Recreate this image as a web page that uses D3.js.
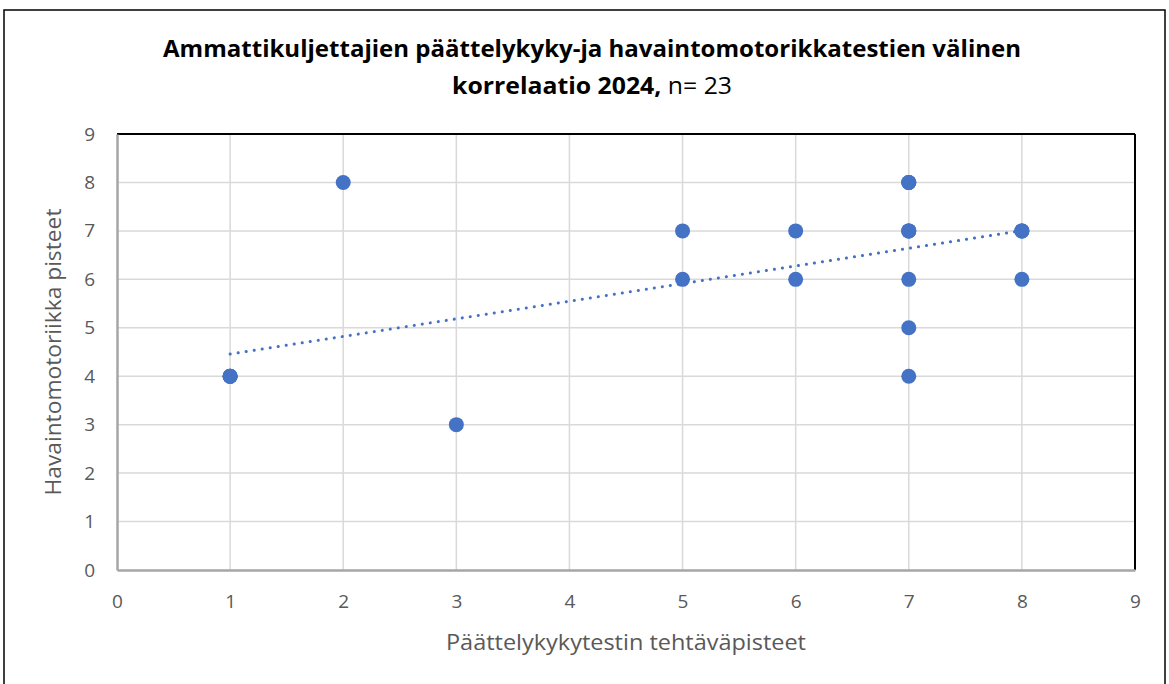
<!DOCTYPE html>
<html>
<head>
<meta charset="utf-8">
<script src="https://cdn.jsdelivr.net/npm/d3@7"></script>
<style>
  body { margin: 0; background: #fff; }
  svg { display: block; font-family: "Open Sans", Lato, sans-serif; }
</style>
</head>
<body>
<div id="plot"></div>
<script>
// scores per driver (overlapping points are repeated)
const xScores = [1, 1, 1, 1, 2, 3, 5, 5, 6, 6, 7, 7, 7, 7, 7, 7, 7, 7, 7, 8, 8, 8, 8];
const yScores = [4, 4, 4, 4, 8, 3, 7, 6, 7, 6, 8, 8, 8, 7, 7, 7, 6, 5, 4, 7, 7, 7, 6];
const xTicks = [0, 1, 2, 3, 4, 5, 6, 7, 8, 9];
const yTicks = [0, 1, 2, 3, 4, 5, 6, 7, 8, 9];
const titleLine1 = "Ammattikuljettajien päättelykyky-ja havaintomotorikkatestien välinen";
const titleBold2 = "korrelaatio 2024,";
const titleRest2 = " n= 23";
const xTitle = "Päättelykykytestin tehtäväpisteet";
const yTitle = "Havaintomotoriikka pisteet";

const width = 1169, height = 684;
const margin = { left: 117, right: 34, top: 134, bottom: 114 };
const color = "#4472c4";

const svg = d3.select("#plot").append("svg")
  .attr("width", width)
  .attr("height", height);

// outer chart frame
svg.append("rect")
  .attr("x", 4).attr("y", 10)
  .attr("width", 1161).attr("height", 700)
  .attr("fill", "none")
  .attr("stroke", "#000")
  .attr("stroke-width", 1.5);

const x = d3.scaleLinear().domain([0, 9]).range([margin.left, width - margin.right]);
const y = d3.scaleLinear().domain([0, 9]).range([height - margin.bottom, margin.top]);

// gridlines
svg.append("g")
  .selectAll("line")
  .data(xTicks.slice(1, -1))
  .enter().append("line")
  .attr("x1", d => x(d)).attr("x2", d => x(d))
  .attr("y1", y(0)).attr("y2", y(9))
  .attr("stroke", "#d9d9d9").attr("stroke-width", 1.5);

svg.append("g")
  .selectAll("line")
  .data(yTicks.slice(1, -1))
  .enter().append("line")
  .attr("x1", x(0)).attr("x2", x(9))
  .attr("y1", d => y(d)).attr("y2", d => y(d))
  .attr("stroke", "#d9d9d9").attr("stroke-width", 1.5);

// plot area border: black top/right, grey axes
svg.append("line")
  .attr("x1", x(0)).attr("x2", x(9)).attr("y1", y(9)).attr("y2", y(9))
  .attr("stroke", "#000").attr("stroke-width", 2);
svg.append("line")
  .attr("x1", x(9)).attr("x2", x(9)).attr("y1", y(9)).attr("y2", y(0))
  .attr("stroke", "#000").attr("stroke-width", 2);

const xAxis = svg.append("g")
  .attr("transform", `translate(0,${y(0)})`)
  .call(d3.axisBottom(x).tickValues(xTicks).tickSize(0).tickPadding(25));
const yAxis = svg.append("g")
  .attr("transform", `translate(${x(0)},0)`)
  .call(d3.axisLeft(y).tickValues(yTicks).tickSize(0).tickPadding(22));

[xAxis, yAxis].forEach(a => {
  a.select(".domain").attr("stroke", "#a6a6a6").attr("stroke-width", 2.5);
  a.selectAll("text")
    .attr("fill", "#595959")
    .style("font-size", "19px")
    .style("font-family", "'Open Sans', sans-serif");
});

// trendline (least squares)
const n = xScores.length;
const mx = d3.mean(xScores), my = d3.mean(yScores);
let sxy = 0, sxx = 0;
for (let i = 0; i < n; i++) {
  sxy += (xScores[i] - mx) * (yScores[i] - my);
  sxx += (xScores[i] - mx) ** 2;
}
const slope = sxy / sxx, intercept = my - slope * mx;
const xExt = d3.extent(xScores);

svg.append("line")
  .attr("x1", x(xExt[0])).attr("y1", y(intercept + slope * xExt[0]))
  .attr("x2", x(xExt[1])).attr("y2", y(intercept + slope * xExt[1]))
  .attr("stroke", color)
  .attr("stroke-width", 3)
  .attr("stroke-linecap", "round")
  .attr("stroke-dasharray", "0.1 8");

// points
svg.append("g")
  .selectAll("circle")
  .data(xScores.map((d, i) => [d, yScores[i]]))
  .enter().append("circle")
  .attr("cx", d => x(d[0]))
  .attr("cy", d => y(d[1]))
  .attr("r", 7.5)
  .attr("fill", color);

// titles
svg.append("text")
  .attr("x", 592).attr("y", 57)
  .attr("text-anchor", "middle")
  .attr("font-weight", "bold")
  .attr("textLength", 858)
  .attr("lengthAdjust", "spacingAndGlyphs")
  .style("font-size", "24px")
  .attr("fill", "#000")
  .text(titleLine1);

const t2 = svg.append("text")
  .attr("x", 592).attr("y", 94)
  .attr("text-anchor", "middle")
  .attr("textLength", 280)
  .attr("lengthAdjust", "spacingAndGlyphs")
  .style("font-size", "24px")
  .attr("fill", "#000");
t2.append("tspan").attr("font-weight", "bold").text(titleBold2);
t2.append("tspan").text(titleRest2);

svg.append("text")
  .attr("x", (x(0) + x(9)) / 2).attr("y", 650)
  .attr("text-anchor", "middle")
  .attr("fill", "#595959")
  .attr("textLength", 360)
  .attr("lengthAdjust", "spacingAndGlyphs")
  .style("font-size", "22px")
  .text(xTitle);

svg.append("text")
  .attr("transform", `translate(61,${(y(0) + y(9)) / 2}) rotate(-90)`)
  .attr("text-anchor", "middle")
  .attr("fill", "#595959")
  .attr("textLength", 287)
  .attr("lengthAdjust", "spacingAndGlyphs")
  .style("font-size", "22px")
  .text(yTitle);
</script>
</body>
</html>
